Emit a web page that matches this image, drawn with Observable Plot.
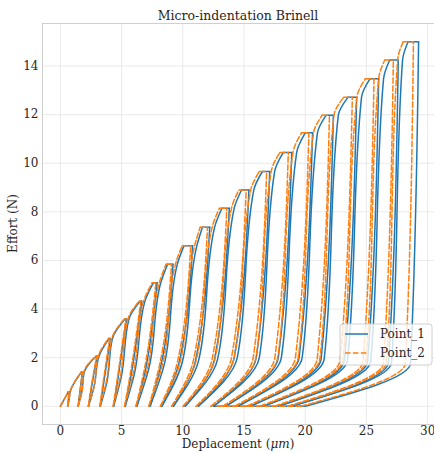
<!DOCTYPE html>
<html><head><meta charset="utf-8">
<script src="https://cdn.jsdelivr.net/npm/d3@7"></script>
<script src="https://cdn.jsdelivr.net/npm/@observablehq/plot@0.6"></script>
<style>
body{margin:0;background:#fff;}
#chart svg{font-family:"DejaVu Serif",serif;}
</style>
</head><body><div id="chart"></div>
<script>
// ---- tick labels ----
const xTicks = [0, 5, 10, 15, 20, 25, 30];
const yTicks = [0, 2, 4, 6, 8, 10, 12, 14];
const seriesNames = ["Point_1", "Point_2"];
const seriesColors = ["#1f77b4", "#ff7f0e"];

// ---- Point_1 : one value per load cycle ----
const p1_F   = [0.6, 1.41, 2.06, 2.79, 3.59, 4.32, 5.08, 5.84, 6.61, 7.37, 8.15, 8.9, 9.66, 10.44, 11.25, 11.97, 12.72, 13.48, 14.25, 15.0];
const p1_xa  = [0.66, 1.72, 2.92, 3.98, 5.28, 6.5, 7.6, 8.75, 10.1, 11.6, 13.2, 14.8, 16.5, 18.2, 20.0, 21.7, 23.5, 25.3, 26.9, 28.4];
const p1_xb  = [0.72, 1.8, 3.0, 4.08, 5.4, 6.65, 7.9, 9.2, 10.8, 12.2, 13.8, 15.4, 17.1, 18.9, 20.6, 22.3, 24.2, 26.0, 27.6, 29.26];
const p1_xk  = [0.66, 1.6, 2.55, 3.55, 4.72, 5.8, 6.95, 8.2, 9.7, 11.05, 12.6, 14.2, 16.0, 17.8, 19.5, 21.3, 23.2, 25.1, 26.8, 28.6];
const p1_yk  = [0.3, 0.6, 0.8, 1.0, 1.2, 1.35, 1.5, 1.65, 1.8, 1.9, 1.95, 2.0, 2.0, 2.0, 2.0, 1.95, 1.9, 1.85, 1.8, 1.77];
const p1_xr  = [0.6, 1.45, 2.3, 3.26, 4.35, 5.3, 6.25, 7.33, 8.29, 9.23, 10.19, 11.27, 12.5, 13.5, 14.5, 15.5, 16.6, 17.8, 18.9, 20.0];
const p1_xkl = [null, 0.72, 1.75, 2.75, 3.8, 4.97, 6.05, 7.2, 8.45, 9.95, 11.3, 12.85, 14.45, 16.25, 18.05, 19.75, 21.55, 23.45, 25.35, 27.05];
const p1_xl  = [null, 0.8, 1.95, 3.15, 4.25, 5.6, 6.9, 8.2, 9.55, 11.15, 12.6, 14.2, 15.8, 17.5, 19.3, 21.0, 22.7, 24.6, 26.4, 27.95];
const p1_retract = [20.0, 12.6];

// ---- Point_2 ----
const p2_F   = [0.6, 1.41, 2.06, 2.79, 3.59, 4.32, 5.08, 5.84, 6.61, 7.37, 8.15, 8.9, 9.66, 10.44, 11.25, 11.97, 12.72, 13.48, 14.25, 15.0];
const p2_xa  = [0.66, 1.72, 2.89, 3.93, 5.23, 6.42, 7.5, 8.63, 9.95, 11.42, 13.0, 14.58, 16.25, 17.92, 19.7, 21.38, 23.15, 24.92, 26.5, 28.0];
const p2_xb  = [0.72, 1.8, 2.97, 4.03, 5.35, 6.57, 7.8, 9.08, 10.65, 12.02, 13.6, 15.18, 16.85, 18.62, 20.3, 21.98, 23.85, 25.62, 27.2, 28.84];
const p2_xk  = [0.66, 1.6, 2.52, 3.5, 4.67, 5.72, 6.85, 8.08, 9.55, 10.87, 12.4, 13.98, 15.75, 17.52, 19.2, 20.98, 22.85, 24.72, 26.4, 28.18];
const p2_yk  = [0.3, 0.6, 0.8, 1.0, 1.2, 1.35, 1.5, 1.65, 1.8, 1.9, 1.95, 2.0, 2.0, 2.0, 2.0, 1.95, 1.9, 1.85, 1.8, 1.77];
const p2_xr  = [0.6, 1.45, 2.28, 3.22, 4.31, 5.24, 6.17, 7.23, 8.17, 9.09, 10.03, 11.09, 12.3, 13.28, 14.26, 15.24, 16.32, 17.5, 18.58, 19.66];
const p2_xkl = [null, 0.72, 1.77, 2.75, 3.75, 4.89, 5.95, 7.08, 8.3, 9.77, 11.1, 12.63, 14.2, 15.97, 17.75, 19.43, 21.2, 23.07, 24.95, 26.63];
const p2_xl  = [null, 0.8, 1.92, 3.1, 4.2, 5.52, 6.8, 8.08, 9.4, 10.97, 12.4, 13.98, 15.55, 17.22, 19.0, 20.68, 22.35, 24.22, 26.0, 27.55];
const p2_retract = [19.66, 12.8];

function build(s, F, xa, xb, xk, yk, xr, xkl, xl, retract) {
  const curved = [], straight = [];
  for (let i = 0; i < F.length; i++) {
    const id = s + "-" + i;
    if (i === 0) {
      straight.push({s, id: id + "L", x: 0, y: 0}, {s, id: id + "L", x: xa[0], y: F[0]});
    } else {
      curved.push(
        {s, id: id + "L", x: xr[i - 1], y: 0},
        {s, id: id + "L", x: xkl[i], y: yk[i - 1]},
        {s, id: id + "L", x: xl[i], y: F[i - 1]},
        {s, id: id + "L", x: xa[i], y: F[i]});
    }
    straight.push({s, id: id + "P", x: xa[i], y: F[i]}, {s, id: id + "P", x: xb[i], y: F[i]});
    curved.push(
      {s, id: id + "U", x: xr[i], y: 0},
      {s, id: id + "U", x: xk[i], y: yk[i]},
      {s, id: id + "U", x: xb[i], y: F[i]});
  }
  straight.push({s, id: s + "-R", x: retract[0], y: 0}, {s, id: s + "-R", x: retract[1], y: 0});
  return {curved, straight};
}

const d1 = build(seriesNames[0], p1_F, p1_xa, p1_xb, p1_xk, p1_yk, p1_xr, p1_xkl, p1_xl, p1_retract);
const d2 = build(seriesNames[1], p2_F, p2_xa, p2_xb, p2_xk, p2_yk, p2_xr, p2_xkl, p2_xl, p2_retract);

const lw = 1.5, dash = "5.5,2.4";
const chart = Plot.plot({
  width: 434, height: 453,
  marginLeft: 42, marginRight: 0, marginTop: 23, marginBottom: 29,
  style: {fontFamily: "DejaVu Serif, serif", fontSize: "12px", color: "#262626", background: "#fff"},
  x: {domain: [-1.46, 30.56], ticks: xTicks, tickSize: 0, tickPadding: 2, label: null},
  y: {domain: [-0.75, 15.75], ticks: yTicks, tickSize: 0, tickPadding: 4, label: null},
  marks: [
    Plot.gridX(xTicks, {stroke: "#e8e8e8", strokeOpacity: 1, strokeWidth: 0.9}),
    Plot.gridY(yTicks, {stroke: "#e8e8e8", strokeOpacity: 1, strokeWidth: 0.9}),
    Plot.frame({stroke: "#cfcfcf"}),
    Plot.line(d1.curved, {x: "x", y: "y", z: "id", curve: "monotone-y", stroke: seriesColors[0], strokeWidth: lw}),
    Plot.line(d1.straight, {x: "x", y: "y", z: "id", stroke: seriesColors[0], strokeWidth: lw}),
    Plot.line(d2.curved, {x: "x", y: "y", z: "id", curve: "monotone-y", stroke: seriesColors[1], strokeWidth: lw, strokeDasharray: dash}),
    Plot.line(d2.straight, {x: "x", y: "y", z: "id", stroke: seriesColors[1], strokeWidth: lw, strokeDasharray: dash}),
    Plot.axisX(xTicks, {tickSize: 0, tickPadding: 2, label: null}),
    Plot.axisY(yTicks, {tickSize: 0, tickPadding: 4, label: null})
  ]
});
document.getElementById("chart").appendChild(chart);

// title, axis labels and legend
const svg = d3.select(chart);
const W = 434, H = 453, mL = 42, mT = 23, mB = 29;
const cx = (mL + W) / 2;
svg.append("text").attr("x", cx).attr("y", 20).attr("text-anchor", "middle")
  .attr("font-size", 12.5).attr("fill", "#262626").text("Micro-indentation Brinell");
const xl = svg.append("text").attr("x", cx).attr("y", 448).attr("text-anchor", "middle")
  .attr("font-size", 12).attr("fill", "#262626");
xl.append("tspan").text("Deplacement (");
xl.append("tspan").attr("font-style", "italic").text("μm");
xl.append("tspan").text(")");
svg.append("text").attr("transform", `translate(17,${(mT + H - mB) / 2}) rotate(-90)`)
  .attr("text-anchor", "middle").attr("font-size", 12).attr("fill", "#262626").text("Effort (N)");

const lg = svg.append("g");
lg.append("rect").attr("x", 340).attr("y", 324).attr("width", 92).attr("height", 41).attr("rx", 3)
  .attr("fill", "#fff").attr("fill-opacity", 0.8).attr("stroke", "#d0d0d0");
seriesNames.forEach((n, i) => {
  const yy = 334 + i * 19;
  lg.append("line").attr("x1", 345).attr("x2", 368).attr("y1", yy).attr("y2", yy)
    .attr("stroke", seriesColors[i]).attr("stroke-width", lw)
    .attr("stroke-dasharray", i ? dash : null);
  lg.append("text").attr("x", 380).attr("y", yy + 4).attr("text-anchor", "start")
    .attr("font-size", 12).attr("fill", "#262626").text(n);
});
</script>
</body></html>
